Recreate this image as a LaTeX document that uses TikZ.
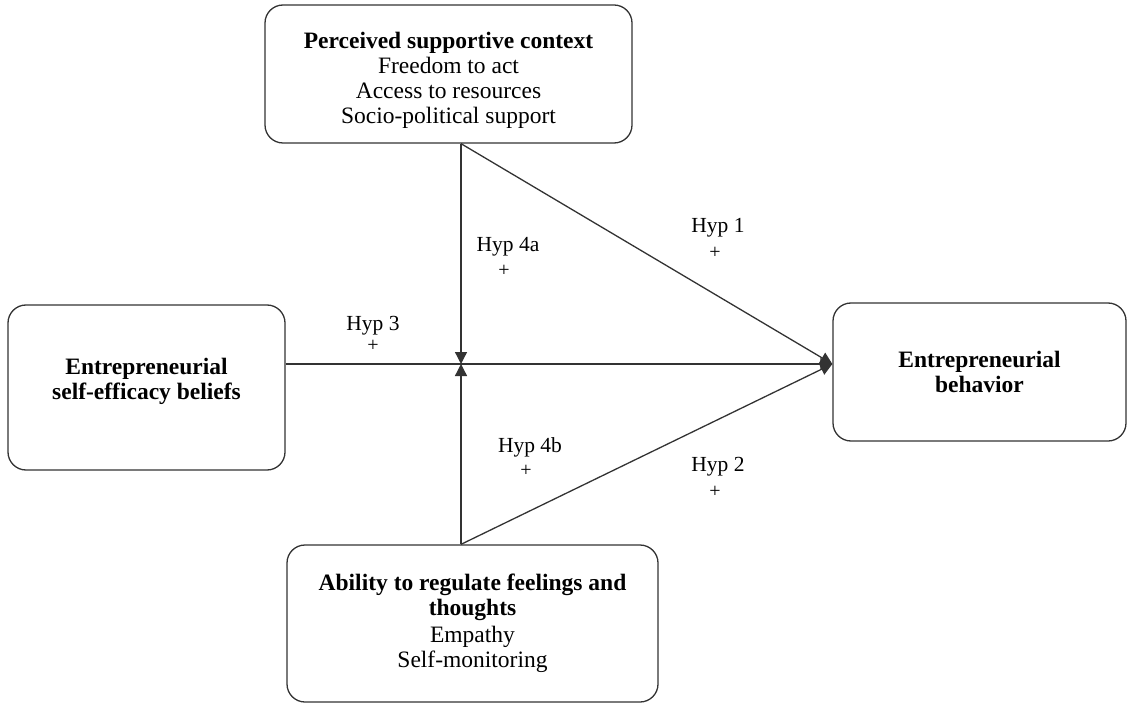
\documentclass[tikz,border=0pt]{standalone}
\usepackage{fontspec}
\setmainfont{Liberation Serif}
\usetikzlibrary{arrows.meta,calc}
\begin{document}
\begin{tikzpicture}[x=1pt,y=-1pt,
  box/.style={draw=black!80, line width=1.3pt, rounded corners=18pt, align=center,
    inner sep=0pt, font=\fontsize{23.5}{25}\selectfont},
  conn/.style={draw=black!80, line width=1.3pt},
  arr/.style={conn, -{Triangle[length=12pt,width=12pt]}},
  hyp/.style={font=\fontsize{21.5}{23}\selectfont, inner sep=0pt},
  plus/.style={font=\fontsize{20}{22}\selectfont, inner sep=0pt}]
\useasboundingbox (0,0) rectangle (1129,703);
\node[box, minimum width=367pt, minimum height=138pt] (top) at (448.5,74) {};
\node[align=center, inner sep=0pt, font=\fontsize{23.5}{25}\selectfont] (toptext) at (448.5,80)
  {\textbf{Perceived supportive context}\\Freedom to act\\Access to resources\\Socio-political support};
\node[box, minimum width=277pt, minimum height=165pt] (left) at (146.5,387.5) {};
\node[align=center, inner sep=0pt, font=\fontsize{23.5}{25}\selectfont] (lefttext) at (146.5,381)
  {\textbf{Entrepreneurial}\\\textbf{self-efficacy beliefs}};
\node[box, minimum width=293pt, minimum height=138pt] (right) at (979.5,372)
  {\textbf{Entrepreneurial}\\\textbf{behavior}};
\node[box, minimum width=371pt, minimum height=157pt] (bot) at (472.5,623.5)
  {\textbf{Ability to regulate feelings and}\\\textbf{thoughts}\\[2pt]Empathy\\Self-monitoring};
\coordinate (J) at (461,364);
\draw[arr] (top.south -| J) -- (J);
\draw[arr] (bot.north -| J) -- (J);
\draw[arr] (left.east |- J) -- (J -| right.west);
\draw[arr] (top.south -| J) -- (J -| right.west);
\draw[arr] (bot.north -| J) -- (J -| right.west);
\node[hyp] (h3) at (373,326) {Hyp 3};
\node[plus] (p3) at (373,346) {+};
\node[hyp] (h4a) at (508,247) {Hyp 4a};
\node[plus] (p4a) at (504,271) {+};
\node[hyp] (h1) at (718,228) {Hyp 1};
\node[plus] (p1) at (715,253) {+};
\node[hyp] (h4b) at (530,447) {Hyp 4b};
\node[plus] (p4b) at (526,471) {+};
\node[hyp] (h2) at (718,467) {Hyp 2};
\node[plus] (p2) at (715,492) {+};
\end{tikzpicture}
\end{document}
